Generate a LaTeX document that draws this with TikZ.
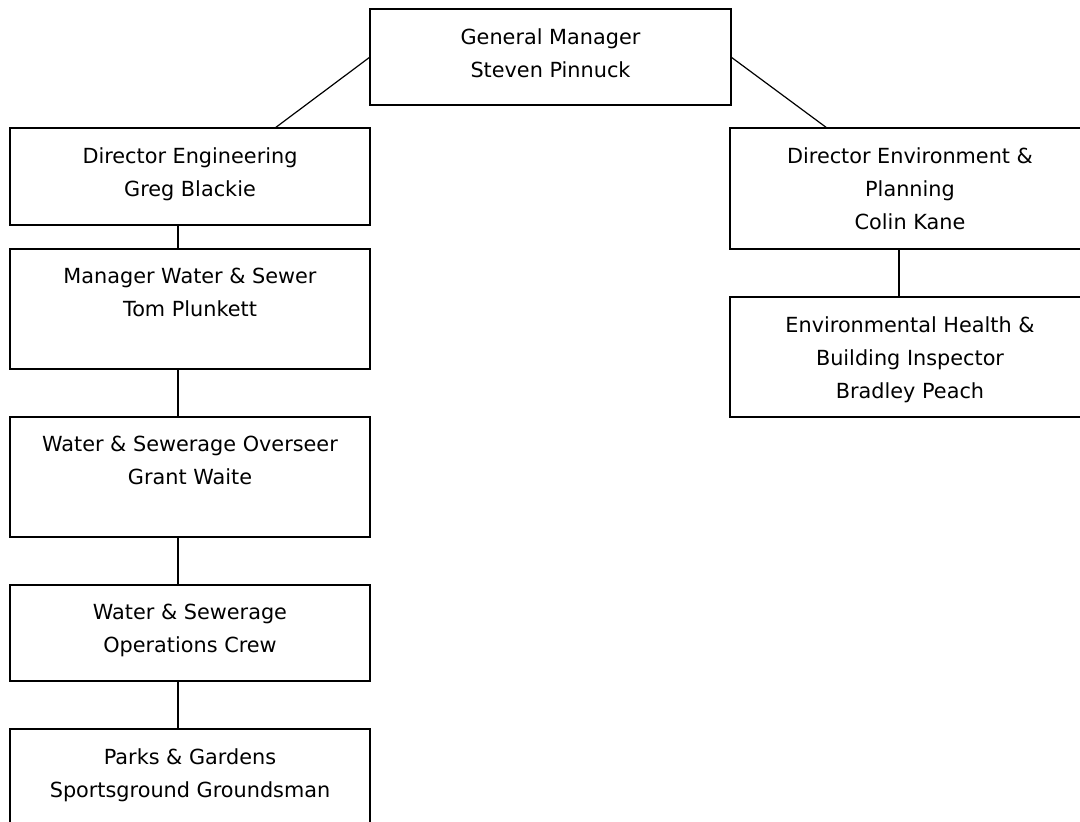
\documentclass[tikz,border=0pt]{standalone}
\usepackage{fontspec}
\setmainfont{DejaVu Sans}
\begin{document}
\begin{tikzpicture}[x=1pt,y=-1pt,
    unit/.style={draw,line width=1.2pt,anchor=north west,minimum width=360pt,inner sep=0pt,outer sep=0pt},
    title/.style={anchor=north,align=center,inner sep=0pt,yshift=-19pt,font=\fontsize{20.8}{33}\selectfont},
    link/.style={line width=1.2pt}]
    \useasboundingbox (0,0) rectangle (1080,822);
    \clip (0,0) rectangle (1080,822);
    % boxes
    \node[unit,minimum width=361pt,minimum height=96pt] (gm) at (370,9) {};
    \node[unit,minimum height=97pt] (eng) at (10,128) {};
    \node[unit,minimum height=120pt] (mws) at (10,249) {};
    \node[unit,minimum height=120pt] (ovs) at (10,417) {};
    \node[unit,minimum height=96pt] (ops) at (10,585) {};
    \node[unit,minimum height=120pt] (pks) at (10,729) {};
    \node[unit,minimum height=121pt] (env) at (730,128) {};
    \node[unit,minimum height=120pt] (ehb) at (730,297) {};
    % texts
    \node[title] (gmt) at (gm.north) {General Manager\\Steven Pinnuck};
    \node[title] (engt) at (eng.north) {Director Engineering\\Greg Blackie};
    \node[title] (mwst) at (mws.north) {Manager Water \& Sewer\\Tom Plunkett};
    \node[title] (ovst) at (ovs.north) {Water \& Sewerage Overseer\\Grant Waite};
    \node[title] (opst) at (ops.north) {Water \& Sewerage\\Operations Crew};
    \node[title] (pkst) at (pks.north) {Parks \& Gardens\\Sportsground Groundsman};
    \node[title] (envt) at (env.north) {Director Environment \&\\Planning\\Colin Kane};
    \node[title] (ehbt) at (ehb.north) {Environmental Health \&\\Building Inspector\\Bradley Peach};
    % lines
    \draw[link] (gm.west) -- ([xshift=85pt]eng.north);
    \draw[link] (gm.east) -- ([xshift=-83pt]env.north);
    \draw[link] ([xshift=-12pt]eng.south) -- ([xshift=-12pt]mws.north);
    \draw[link] ([xshift=-12pt]mws.south) -- ([xshift=-12pt]ovs.north);
    \draw[link] ([xshift=-12pt]ovs.south) -- ([xshift=-12pt]ops.north);
    \draw[link] ([xshift=-12pt]ops.south) -- ([xshift=-12pt]pks.north);
    \draw[link] ([xshift=-11pt]env.south) -- ([xshift=-11pt]ehb.north);
\end{tikzpicture}
\end{document}
